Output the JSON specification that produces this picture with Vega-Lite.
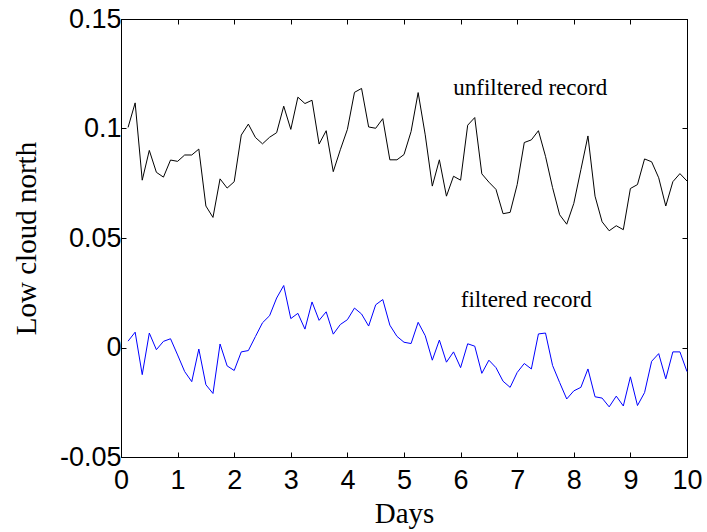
{
  "$schema": "https://vega.github.io/schema/vega-lite/v6.json",
  "width": 566,
  "height": 438,
  "autosize": "none",
  "padding": {"left": 121, "top": 19, "right": 20, "bottom": 75},
  "background": "white",
  "config": {
    "view": {"stroke": "black", "strokeWidth": 1},
    "axis": {
      "domainColor": "black",
      "domainWidth": 1,
      "tickColor": "black",
      "tickWidth": 1,
      "tickSize": -5,
      "grid": false,
      "labelFont": "Liberation Sans",
      "labelFontSize": 27,
      "labelColor": "black",
      "titleFont": "Liberation Serif",
      "titleFontSize": 29,
      "titleFontWeight": "normal",
      "titleColor": "black"
    }
  },
  "datasets": {
    "lc": [
      {"day": 0.125, "unfiltered": 0.1005, "filtered": 0.0029},
      {"day": 0.25, "unfiltered": 0.1117, "filtered": 0.0070},
      {"day": 0.375, "unfiltered": 0.0764, "filtered": -0.0124},
      {"day": 0.5, "unfiltered": 0.0900, "filtered": 0.0066},
      {"day": 0.625, "unfiltered": 0.0800, "filtered": -0.0010},
      {"day": 0.75, "unfiltered": 0.0778, "filtered": 0.0028},
      {"day": 0.875, "unfiltered": 0.0856, "filtered": 0.0040},
      {"day": 1.0, "unfiltered": 0.0850, "filtered": -0.0034},
      {"day": 1.125, "unfiltered": 0.0879, "filtered": -0.0110},
      {"day": 1.25, "unfiltered": 0.0879, "filtered": -0.0156},
      {"day": 1.375, "unfiltered": 0.0906, "filtered": -0.0007},
      {"day": 1.5, "unfiltered": 0.0646, "filtered": -0.0170},
      {"day": 1.625, "unfiltered": 0.0594, "filtered": -0.0210},
      {"day": 1.75, "unfiltered": 0.0770, "filtered": 0.0016},
      {"day": 1.875, "unfiltered": 0.0728, "filtered": -0.0084},
      {"day": 2.0, "unfiltered": 0.0757, "filtered": -0.0105},
      {"day": 2.125, "unfiltered": 0.0970, "filtered": -0.0020},
      {"day": 2.25, "unfiltered": 0.1020, "filtered": -0.0014},
      {"day": 2.375, "unfiltered": 0.0959, "filtered": 0.0050},
      {"day": 2.5, "unfiltered": 0.0930, "filtered": 0.0113},
      {"day": 2.625, "unfiltered": 0.0960, "filtered": 0.0145},
      {"day": 2.75, "unfiltered": 0.0981, "filtered": 0.0226},
      {"day": 2.875, "unfiltered": 0.1102, "filtered": 0.0283},
      {"day": 3.0, "unfiltered": 0.0996, "filtered": 0.0132},
      {"day": 3.125, "unfiltered": 0.1143, "filtered": 0.0156},
      {"day": 3.25, "unfiltered": 0.1114, "filtered": 0.0084},
      {"day": 3.375, "unfiltered": 0.1129, "filtered": 0.0208},
      {"day": 3.5, "unfiltered": 0.0929, "filtered": 0.0124},
      {"day": 3.625, "unfiltered": 0.0990, "filtered": 0.0163},
      {"day": 3.75, "unfiltered": 0.0803, "filtered": 0.0061},
      {"day": 3.875, "unfiltered": 0.0903, "filtered": 0.0105},
      {"day": 4.0, "unfiltered": 0.0996, "filtered": 0.0127},
      {"day": 4.125, "unfiltered": 0.1165, "filtered": 0.0180},
      {"day": 4.25, "unfiltered": 0.1183, "filtered": 0.0153},
      {"day": 4.375, "unfiltered": 0.1007, "filtered": 0.0098},
      {"day": 4.5, "unfiltered": 0.1001, "filtered": 0.0195},
      {"day": 4.625, "unfiltered": 0.1045, "filtered": 0.0219},
      {"day": 4.75, "unfiltered": 0.0857, "filtered": 0.0102},
      {"day": 4.875, "unfiltered": 0.0857, "filtered": 0.0051},
      {"day": 5.0, "unfiltered": 0.0881, "filtered": 0.0024},
      {"day": 5.125, "unfiltered": 0.0986, "filtered": 0.0018},
      {"day": 5.25, "unfiltered": 0.1164, "filtered": 0.0115},
      {"day": 5.375, "unfiltered": 0.0971, "filtered": 0.0054},
      {"day": 5.5, "unfiltered": 0.0737, "filtered": -0.0058},
      {"day": 5.625, "unfiltered": 0.0857, "filtered": 0.0034},
      {"day": 5.75, "unfiltered": 0.0691, "filtered": -0.0067},
      {"day": 5.875, "unfiltered": 0.0782, "filtered": -0.0020},
      {"day": 6.0, "unfiltered": 0.0764, "filtered": -0.0092},
      {"day": 6.125, "unfiltered": 0.1015, "filtered": 0.0017},
      {"day": 6.25, "unfiltered": 0.1050, "filtered": 0.0006},
      {"day": 6.375, "unfiltered": 0.0793, "filtered": -0.0118},
      {"day": 6.5, "unfiltered": 0.0755, "filtered": -0.0058},
      {"day": 6.625, "unfiltered": 0.0722, "filtered": -0.0092},
      {"day": 6.75, "unfiltered": 0.0611, "filtered": -0.0154},
      {"day": 6.875, "unfiltered": 0.0617, "filtered": -0.0182},
      {"day": 7.0, "unfiltered": 0.0744, "filtered": -0.0114},
      {"day": 7.125, "unfiltered": 0.0936, "filtered": -0.0073},
      {"day": 7.25, "unfiltered": 0.0948, "filtered": -0.0098},
      {"day": 7.375, "unfiltered": 0.0990, "filtered": 0.0062},
      {"day": 7.5, "unfiltered": 0.0873, "filtered": 0.0066},
      {"day": 7.625, "unfiltered": 0.0730, "filtered": -0.0082},
      {"day": 7.75, "unfiltered": 0.0606, "filtered": -0.0160},
      {"day": 7.875, "unfiltered": 0.0563, "filtered": -0.0235},
      {"day": 8.0, "unfiltered": 0.0658, "filtered": -0.0198},
      {"day": 8.125, "unfiltered": 0.0812, "filtered": -0.0182},
      {"day": 8.25, "unfiltered": 0.0966, "filtered": -0.0098},
      {"day": 8.375, "unfiltered": 0.0691, "filtered": -0.0225},
      {"day": 8.5, "unfiltered": 0.0574, "filtered": -0.0231},
      {"day": 8.625, "unfiltered": 0.0533, "filtered": -0.0271},
      {"day": 8.75, "unfiltered": 0.0556, "filtered": -0.0222},
      {"day": 8.875, "unfiltered": 0.0538, "filtered": -0.0267},
      {"day": 9.0, "unfiltered": 0.0726, "filtered": -0.0134},
      {"day": 9.125, "unfiltered": 0.0744, "filtered": -0.0265},
      {"day": 9.25, "unfiltered": 0.0861, "filtered": -0.0206},
      {"day": 9.375, "unfiltered": 0.0848, "filtered": -0.0063},
      {"day": 9.5, "unfiltered": 0.0775, "filtered": -0.0028},
      {"day": 9.625, "unfiltered": 0.0646, "filtered": -0.0143},
      {"day": 9.75, "unfiltered": 0.0757, "filtered": -0.0020},
      {"day": 9.875, "unfiltered": 0.0794, "filtered": -0.0020},
      {"day": 10.0, "unfiltered": 0.0760, "filtered": -0.0110}
    ],
    "notes": [
      {"x": 7.23, "y": 0.1152, "label": "unfiltered record"},
      {"x": 7.16, "y": 0.0186, "label": "filtered record"}
    ]
  },
  "layer": [
    {
      "data": {"name": "lc"},
      "transform": [{"fold": ["unfiltered", "filtered"], "as": ["series", "value"]}],
      "mark": {"type": "line", "strokeWidth": 1},
      "encoding": {
        "x": {
          "field": "day", "type": "quantitative",
          "scale": {"domain": [0, 10], "nice": false},
          "axis": {
            "orient": "bottom",
            "values": [0, 1, 2, 3, 4, 5, 6, 7, 8, 9, 10],
            "labelPadding": 15,
            "labelFlush": false,
            "labelOverlap": false,
            "title": "Days",
            "titleY": 65,
            "titleBaseline": "alphabetic"
          }
        },
        "y": {
          "field": "value", "type": "quantitative",
          "scale": {"domain": [-0.05, 0.15], "nice": false, "zero": false},
          "axis": {
            "orient": "left",
            "values": [-0.05, 0, 0.05, 0.1, 0.15],
            "labelExpr": "'' + datum.value",
            "labelPadding": 5,
            "labelFlush": false,
            "labelOverlap": false,
            "title": "Low cloud north",
            "titleX": -86,
            "titleY": 219,
            "titleAngle": 270,
            "titleAlign": "center",
            "titleBaseline": "alphabetic"
          }
        },
        "color": {
          "field": "series", "type": "nominal",
          "scale": {"domain": ["unfiltered", "filtered"], "range": ["#000000", "#0000ff"]},
          "legend": null
        }
      }
    },
    {
      "data": {"name": "lc"},
      "mark": {"type": "line", "opacity": 0},
      "encoding": {
        "x": {
          "field": "day", "type": "quantitative",
          "scale": {"domain": [0, 10], "nice": false},
          "axis": {"orient": "top", "values": [0, 1, 2, 3, 4, 5, 6, 7, 8, 9, 10], "labels": false, "title": null}
        },
        "y": {
          "field": "unfiltered", "type": "quantitative",
          "scale": {"domain": [-0.05, 0.15], "nice": false, "zero": false},
          "axis": {"orient": "right", "values": [-0.05, 0, 0.05, 0.1, 0.15], "labels": false, "title": null}
        }
      }
    },
    {
      "data": {"name": "notes"},
      "mark": {"type": "text", "font": "Liberation Serif", "fontSize": 23, "align": "center", "baseline": "alphabetic", "color": "black"},
      "encoding": {
        "x": {"field": "x", "type": "quantitative", "scale": {"domain": [0, 10], "nice": false}, "axis": null},
        "y": {"field": "y", "type": "quantitative", "scale": {"domain": [-0.05, 0.15], "nice": false, "zero": false}, "axis": null},
        "text": {"field": "label", "type": "nominal"}
      }
    }
  ],
  "resolve": {"axis": {"x": "independent", "y": "independent"}}
}
